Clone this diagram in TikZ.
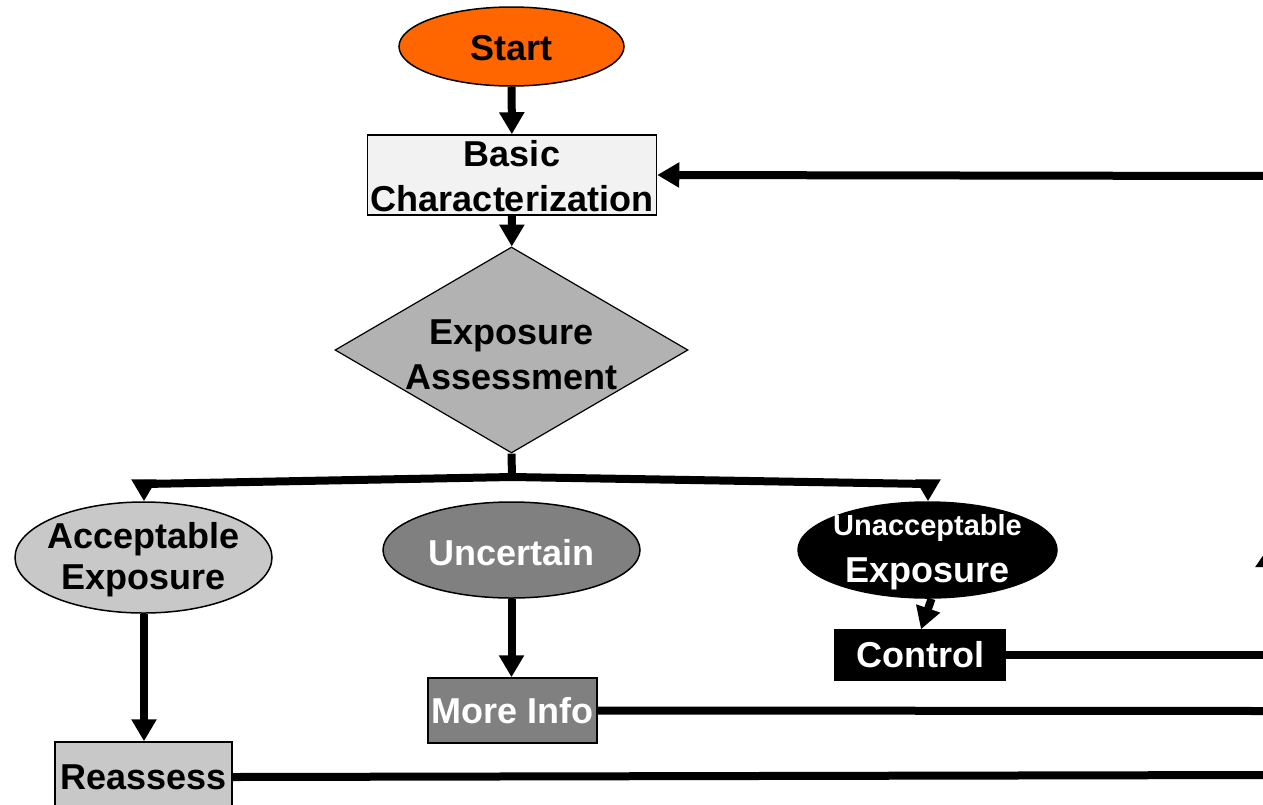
\documentclass[tikz,border=0pt]{standalone}
\usepackage{fontspec}
\setmainfont{Liberation Sans}
\usetikzlibrary{shapes.geometric,arrows.meta}
\definecolor{startor}{HTML}{FF6600}
\definecolor{basicfill}{HTML}{F2F2F2}
\definecolor{diafill}{HTML}{B2B2B2}
\definecolor{lightg}{HTML}{C8C8C8}
\definecolor{midg}{HTML}{808080}
\tikzset{
  big/.style={font=\fontsize{36}{45}\selectfont\bfseries, align=center, inner sep=0pt},
  oval/.style={ellipse, draw=black, line width=1.5pt, inner sep=0pt, big},
  boxn/.style={rectangle, draw=black, line width=1.5pt, inner sep=0pt, big},
  conn/.style={line width=8pt, draw=black},
  arr/.style={conn, -{Triangle[length=22pt,width=24pt]}},
  uparr/.style={conn, -{Triangle[length=22pt,width=28pt]}}
}
\begin{document}
\begin{tikzpicture}[x=1pt,y=-1pt]
\useasboundingbox (0,0) rectangle (1263,804);
\clip (0,0) rectangle (1263,804);
% shapes
\node[oval, fill=startor, minimum width=225pt, minimum height=79pt] (start) at (511.5,46.5) {};
\node[boxn, fill=basicfill, minimum width=289pt, minimum height=80pt] (basic) at (512,175) {};
\node[diamond, draw=black, line width=1.2pt, fill=diafill, minimum width=353pt, minimum height=206pt, inner sep=0pt] (assess) at (511.5,350) {};
\node[oval, fill=lightg, minimum width=257pt, minimum height=111pt] (accept) at (143.5,557.5) {};
\node[oval, fill=midg, minimum width=257pt, minimum height=96pt] (uncert) at (511.5,550) {};
\node[oval, fill=black, minimum width=259pt, minimum height=96pt] (unacc) at (927.5,550) {};
\node[boxn, fill=black, text=white, minimum width=170pt, minimum height=50pt] (control) at (920,655) {Control};
\node[boxn, fill=midg, text=white, minimum width=169pt, minimum height=65pt] (moreinfo) at (512.5,710.5) {More Info};
\node[boxn, fill=lightg, minimum width=177pt, minimum height=70pt] (reassess) at (143.5,777) {Reassess};
% texts
\node[big] (startT) at (511.5,48) {Start};
\node[big] (basicT) at (512,176.5) {Basic\\Characterization};
\node[big] (assessT) at (511.5,354.5) {Exposure\\Assessment};
\node[big, font=\fontsize{36}{41}\selectfont\bfseries] (acceptT) at (143.5,560) {Acceptable\\Exposure};
\node[big, text=white] (uncertT) at (511.5,553) {Uncertain};
\node[big, text=white, font=\fontsize{36}{47}\selectfont\bfseries] (unaccT) at (927.5,552.5) {{\fontsize{29}{47}\selectfont Unacceptable}\\Exposure};
% junctions
\coordinate (fork) at (512,477);
\coordinate (fl) at (144,484);
\coordinate (fr) at (928,484);
\coordinate (rtop) at (1270,176);
\coordinate (rctl) at (1270,655);
\coordinate (rmi) at (1270,711);
\coordinate (rre) at (1270,775);
\coordinate (rmid) at (1270,545);
% connectors
\draw[arr] (start) -- (basic);
\draw[arr] (basic) -- (assess);
\draw[conn] (assess.south) -- (fork);
\draw[conn] (fl) -- (fork) -- (fr);
\draw[arr] (fl) -- (fl |- accept.north);
\draw[arr] (fr) -- (fr |- unacc.north);
\draw[arr] (accept.south -| fl) -- (reassess.north -| fl);
\draw[arr] (uncert) -- (uncert |- moreinfo.north);
\draw[arr] ([xshift=4pt]unacc.south) -- ([xshift=1pt]control.north);
\draw[conn] (control.east) -- (rctl);
\draw[conn] (moreinfo.east) -- (rmi);
\draw[conn] (reassess.east) -- (rre);
\draw[uparr] (rre) -- (rmid);
\draw[conn] (rmid) -- (rtop);
\draw[arr] (rtop) -- (basic.east);
\end{tikzpicture}
\end{document}
